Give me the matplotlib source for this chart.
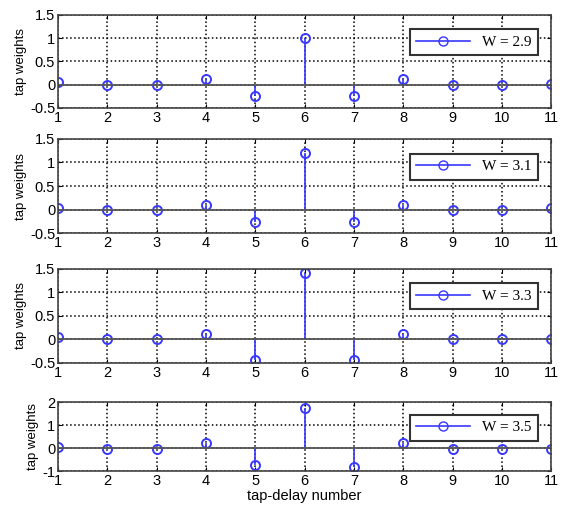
import matplotlib
matplotlib.use("Agg")
import matplotlib.pyplot as plt
import numpy as np

# Tap-delay positions and the estimated tap weights for each W
TAPS = list(range(1, 12))
W_VALUES = ["2.9", "3.1", "3.3", "3.5"]
weights_29 = [0.05, 0.0, 0.0, 0.12, -0.25, 1.0, -0.25, 0.12, 0.0, 0.0, 0.02]
weights_31 = [0.04, -0.01, -0.01, 0.10, -0.27, 1.2, -0.27, 0.10, -0.01, -0.01, 0.03]
weights_33 = [0.04, 0.0, 0.0, 0.12, -0.45, 1.4, -0.45, 0.12, 0.0, 0.0, 0.0]
weights_35 = [0.05, -0.03, -0.03, 0.22, -0.75, 1.75, -0.80, 0.22, -0.03, -0.03, -0.02]
ALL_WEIGHTS = [weights_29, weights_31, weights_33, weights_35]

Y_LIMITS = [(-0.5, 1.5), (-0.5, 1.5), (-0.5, 1.5), (-1, 2)]
Y_TICKS = [[-0.5, 0, 0.5, 1, 1.5]] * 3 + [[-1, 0, 1, 2]]
Y_TICKLABELS = [["-0.5", "0", "0.5", "1", "1.5"]] * 3 + [["-1", "0", "1", "2"]]

# axes rectangles in figure fractions (left, bottom, width, height)
AX_RECTS = [
    (0.103, 0.789, 0.876, 0.182),
    (0.103, 0.544, 0.876, 0.184),
    (0.103, 0.290, 0.876, 0.184),
    (0.103, 0.078, 0.876, 0.135),
]
LEGEND_ANCHORS = [(0.988, 0.925), (0.988, 0.925), (0.988, 0.925), (0.988, 0.93)]

plt.rcParams["font.family"] = ["Liberation Sans", "DejaVu Sans"]

fig = plt.figure(figsize=(5.63, 5.11), dpi=100)

for i, (weights, w) in enumerate(zip(ALL_WEIGHTS, W_VALUES)):
    ax = fig.add_axes(AX_RECTS[i])
    markerline, stemlines, baseline = ax.stem(TAPS, weights, basefmt="-")
    plt.setp(stemlines, color="#3838ff", linewidth=1.2)
    plt.setp(markerline, color="#3838ff", marker="o", markersize=6.5,
             markerfacecolor="none", markeredgewidth=1.4)
    plt.setp(baseline, color="#555555", linewidth=1.3)
    baseline.set_xdata([1, 11])

    ax.set_xlim(1, 11)
    ax.set_ylim(*Y_LIMITS[i])
    ax.set_xticks(TAPS)
    ax.set_yticks(Y_TICKS[i])
    ax.set_yticklabels(Y_TICKLABELS[i])
    ax.grid(True, color="black", linestyle=":", linewidth=1.1)
    ax.tick_params(labelsize=10.5, length=3, direction="in", pad=2, top=True, right=True)
    for sp in ax.spines.values():
        sp.set_color("#444444")
        sp.set_linewidth(1.2)
    ax.set_ylabel("tap weights", fontsize=9.5, labelpad=2)

    handle = plt.Line2D([], [], color="#3838ff", marker="o", markersize=6.5,
                        markerfacecolor="none", linewidth=1.2)
    leg = ax.legend([handle], ["W = " + w], loc="upper right",
                    prop={"family": "Liberation Serif", "size": 11},
                    fancybox=False, framealpha=1, edgecolor="#333333",
                    handlelength=3.5, borderpad=0.4,
                    bbox_to_anchor=LEGEND_ANCHORS[i])
    leg.get_frame().set_linewidth(1.5)

    if i == 3:
        ax.set_xlabel("tap-delay number", fontsize=10.5, labelpad=1)

fig.savefig("out.png", dpi=100)
